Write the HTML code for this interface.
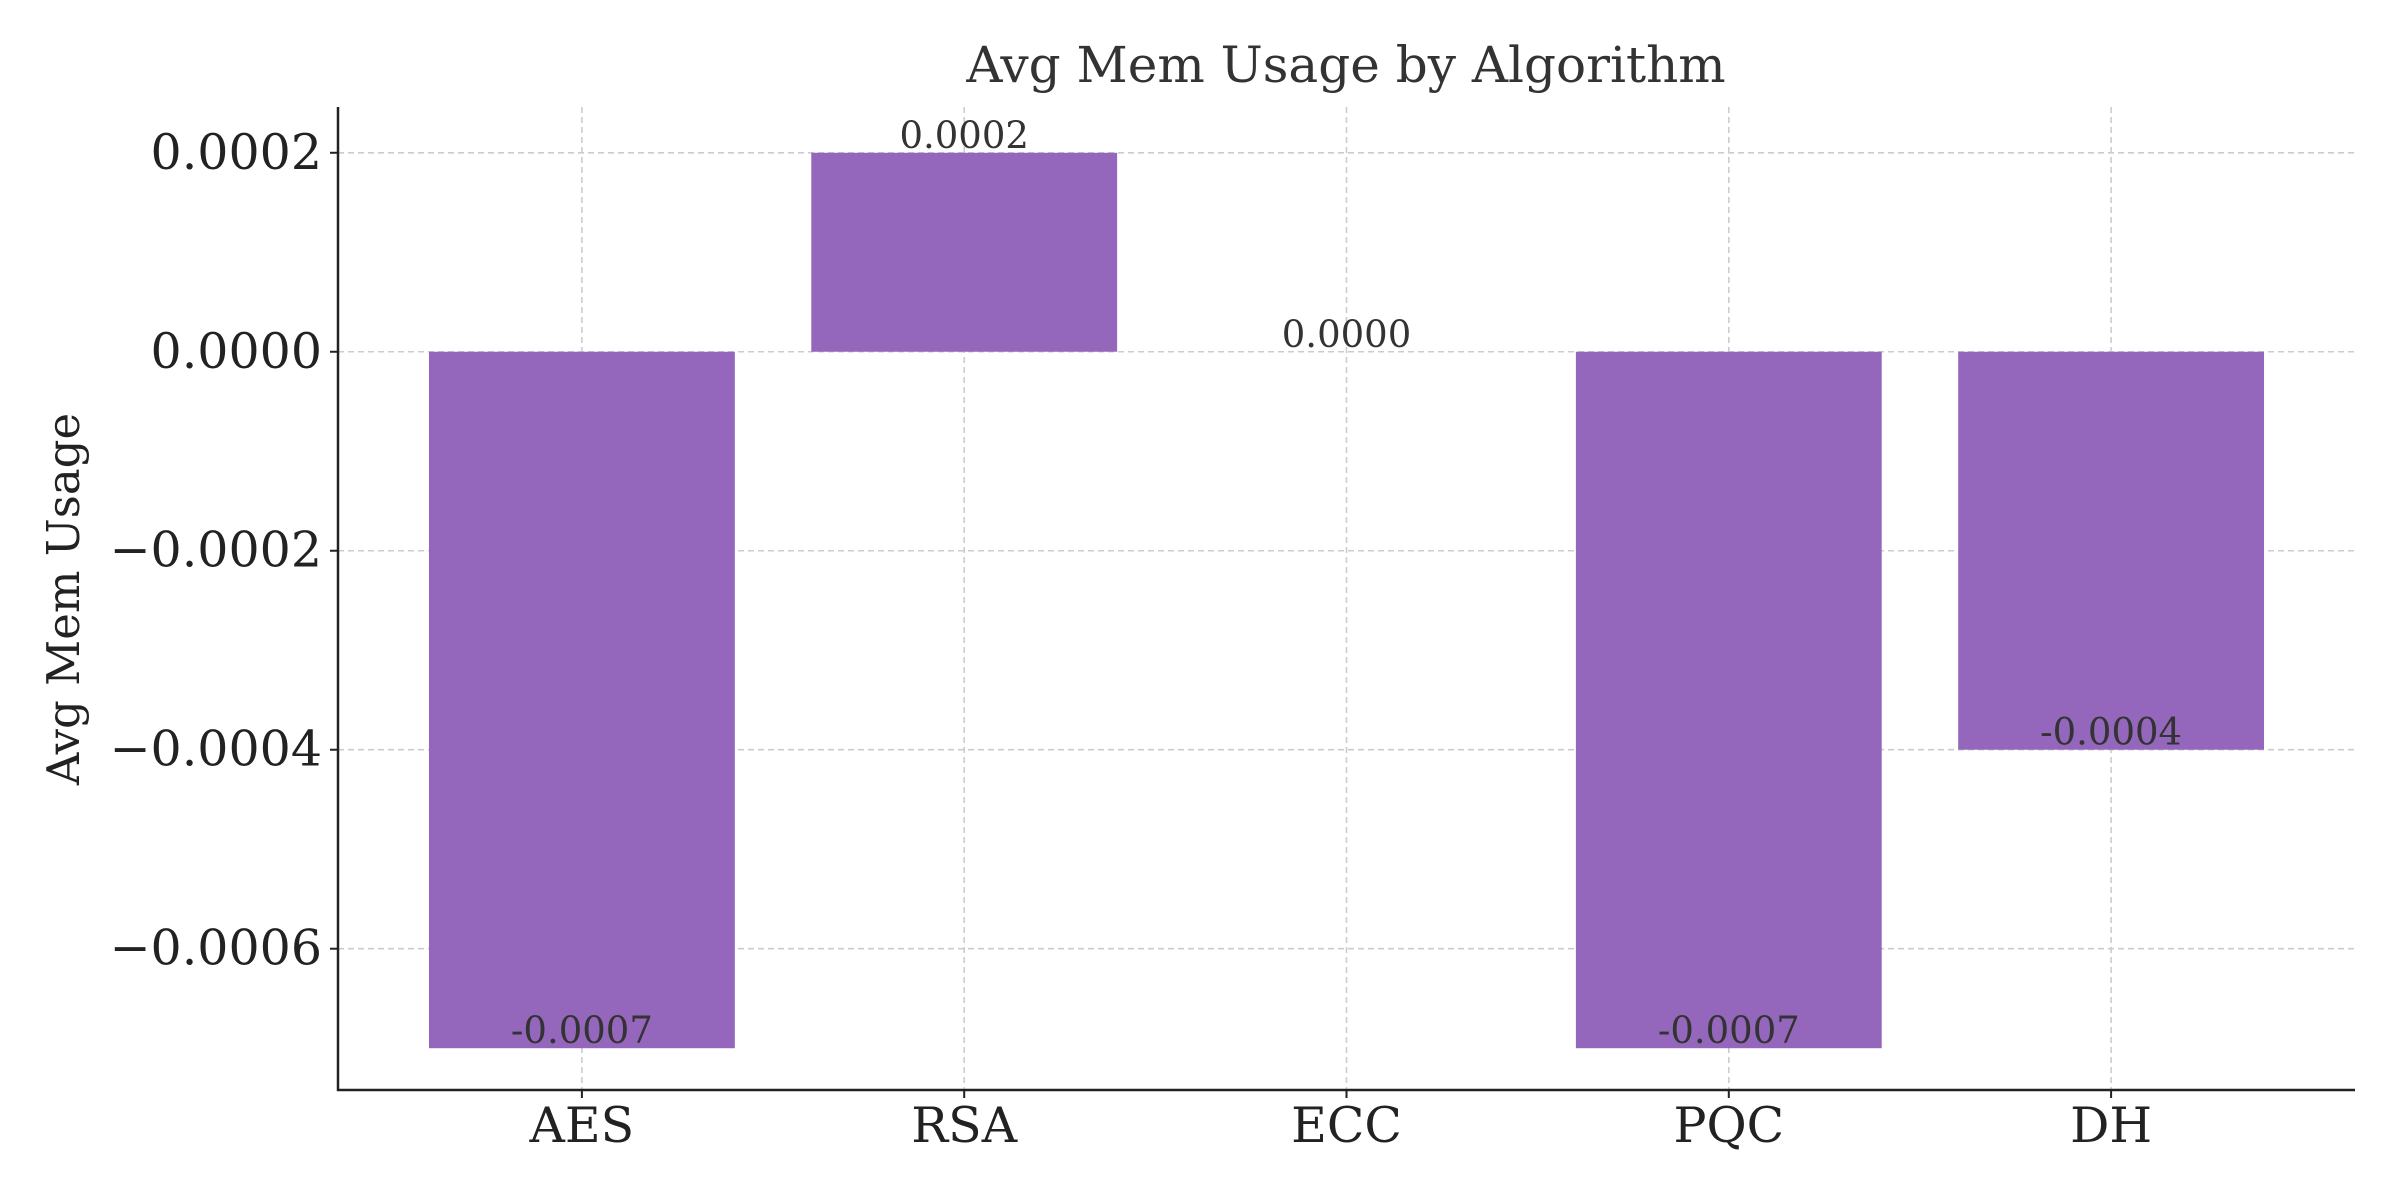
<!DOCTYPE html>
<html><head><meta charset="utf-8"><style>
html,body{margin:0;padding:0;background:#fff;}
svg{display:block;font-family:"DejaVu Serif","Liberation Serif",serif;}
</style></head><body>
<svg id="chart" width="2400" height="1200" viewBox="0 0 2400 1200" xmlns="http://www.w3.org/2000/svg">
<rect width="2400" height="1200" fill="#fff"/>
<text x="1346" y="82" text-anchor="middle" font-size="50" fill="#333">Avg Mem Usage by Algorithm</text>
<text transform="translate(79,599) rotate(-90)" text-anchor="middle" font-size="45" fill="#222">Avg Mem Usage</text>
<g id="grid"></g><g id="bars"></g><g id="labels"></g><g id="axes"></g>
</svg>
<script>
const categories = ["AES","RSA","ECC","PQC","DH"];
const values = [-0.0007, 0.0002, 0.0000, -0.0007, -0.0004];
const valueLabels = ["-0.0007","0.0002","0.0000","-0.0007","-0.0004"];
const yTicks = [0.0002, 0, -0.0002, -0.0004, -0.0006];
const yTickLabels = ["0.0002","0.0000","\u22120.0002","\u22120.0004","\u22120.0006"];

const L=338,R=2355,T=107,B=1090;
const yMin=-0.000742,yMax=0.000246,xMin=-0.638,xMax=4.638;
const ys=v=>B-(v-yMin)/(yMax-yMin)*(B-T);
const xs=i=>L+(i-xMin)/(xMax-xMin)*(R-L);
const NS="http://www.w3.org/2000/svg";
function mk(tag,attrs,parent){const e=document.createElementNS(NS,tag);for(const k in attrs)e.setAttribute(k,attrs[k]);parent.appendChild(e);return e;}
const grid=document.getElementById('grid'),bars=document.getElementById('bars'),labels=document.getElementById('labels'),axes=document.getElementById('axes');
yTicks.forEach((t,i)=>{
  const y=ys(t);
  const g=mk('line',{x1:L,x2:R,y1:y,y2:y,stroke:'#ccc','stroke-width':1.6,'stroke-dasharray':'6,4'},grid);
  
  
  mk('line',{x1:L-8,x2:L,y1:y,y2:y,stroke:'#222','stroke-width':2},axes);
  const tx=mk('text',{x:L-16,y:y+16,'text-anchor':'end','font-size':49,fill:'#222'},axes);
  tx.textContent=yTickLabels[i];
  
  
});
categories.forEach((c,i)=>{
  const x=xs(i);
  const g=mk('line',{x1:x,x2:x,y1:T,y2:B,stroke:'#ccc','stroke-width':1.6,'stroke-dasharray':'6,4'},grid);
  
  
  const w=xs(0.4)-xs(0);
  const y0=ys(0),y1=ys(values[i]);
  const b=mk('rect',{x:x-w,y:Math.min(y0,y1),width:2*w,height:Math.abs(y1-y0),fill:'#9467bd'},bars);
  
  
  const lb=mk('text',{x:x,y:y1-5,'text-anchor':'middle','font-size':37,fill:'#333'},labels);
  lb.textContent=valueLabels[i];
  
  
  mk('line',{x1:x,x2:x,y1:B,y2:B+8,stroke:'#222','stroke-width':2},axes);
  const tx=mk('text',{x:x,y:B+52,'text-anchor':'middle','font-size':49,fill:'#222'},axes);
  tx.textContent=c;
  
  
});
const la=mk('line',{x1:L,x2:L,y1:T,y2:B+1,stroke:'#222','stroke-width':2.5},axes);


const ba=mk('line',{x1:L-1,x2:R,y1:B,y2:B,stroke:'#222','stroke-width':2.5},axes);


</script>
</body></html>
